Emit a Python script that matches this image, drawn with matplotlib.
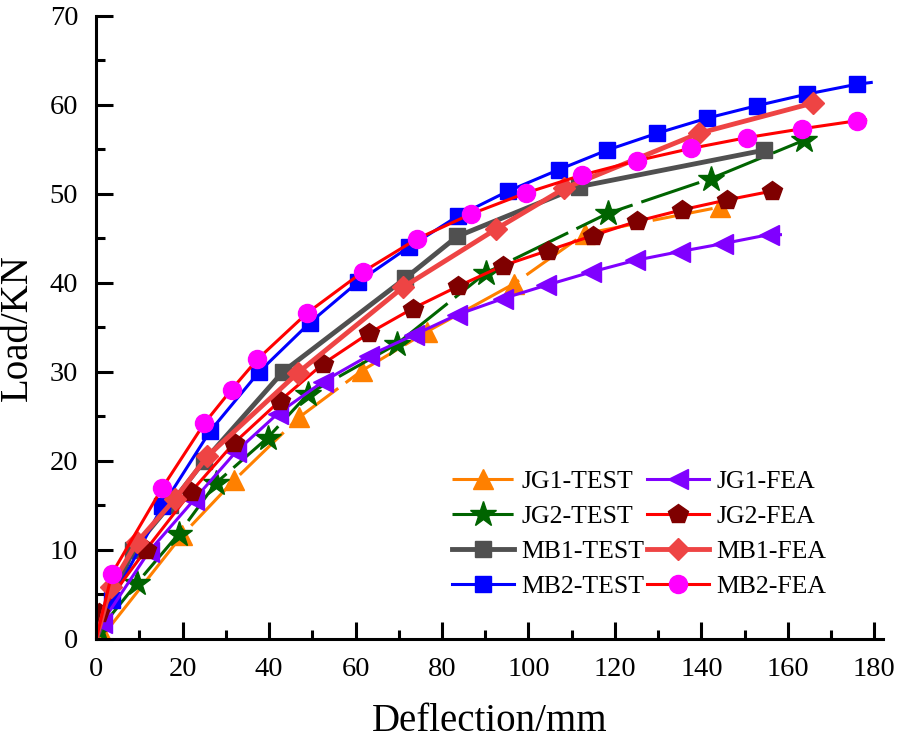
import matplotlib
matplotlib.use("Agg")
import matplotlib.pyplot as plt
from matplotlib.ticker import MultipleLocator

# load-deflection data
jg1_test_x = [1.6, 19.8, 31.9, 47.0, 61.4, 76.5, 96.7, 113.0, 144.3]
jg1_test_y = [0.4, 11.6, 17.8, 24.9, 30.1, 34.5, 39.9, 45.5, 48.5]

jg2_test_x = [0.7, 9.5, 19.1, 27.7, 39.7, 49.0, 69.5, 90.1, 118.4, 142.2, 163.7]
jg2_test_y = [1.0, 6.3, 11.8, 17.5, 22.6, 27.5, 33.1, 41.1, 47.8, 51.7, 56.0]

mb1_test_x = [0, 8.5, 17.0, 25.0, 43.2, 71.5, 83.5, 111.8, 154.6]
mb1_test_y = [0, 10.0, 15.0, 20.0, 30.0, 40.5, 45.2, 50.8, 54.9]

mb2_test_x = [0, 3.6, 15.3, 26.3, 37.7, 49.4, 60.6, 72.3, 83.7, 95.3, 107.0,
              118.2, 129.8, 141.4, 152.9, 164.5, 176.0, 179.3]
mb2_test_y = [0, 4.3, 14.9, 23.3, 30.0, 35.5, 40.1, 44.0, 47.5, 50.3, 52.7,
              54.9, 56.8, 58.5, 59.9, 61.2, 62.3, 62.5]

jg1_fea_x = [1.3, 12.2, 22.6, 32.3, 42.0, 52.5, 63.0, 73.4, 83.5, 94.0, 104.0,
             114.5, 124.6, 135.0, 145.1, 155.6, 158.3]
jg1_fea_y = [1.8, 9.8, 15.6, 21.0, 25.3, 28.9, 31.8, 34.1, 36.4, 38.2, 39.7,
             41.2, 42.5, 43.5, 44.4, 45.4, 45.4]

jg2_fea_x = [0.7, 11.5, 21.9, 31.9, 42.4, 52.5, 63.0, 73.2, 83.7, 94.0, 104.4,
             114.9, 125.1, 135.6, 145.9, 156.4]
jg2_fea_y = [2.9, 10.0, 16.5, 22.0, 26.7, 30.9, 34.3, 37.1, 39.6, 41.9, 43.6,
             45.3, 46.9, 48.2, 49.3, 50.3]

mb1_fea_x = [0, 3.3, 9.5, 18.2, 25.7, 46.7, 71.0, 92.4, 108.3, 139.5, 165.9]
mb1_fea_y = [0, 5.8, 10.9, 15.7, 20.5, 29.9, 39.5, 46.0, 50.6, 56.8, 60.2]

mb2_fea_x = [0, 3.6, 15.2, 25.0, 31.3, 37.3, 48.8, 61.6, 74.1, 86.6, 99.5,
             112.4, 125.0, 137.7, 150.5, 163.3, 176.0, 178.0]
mb2_fea_y = [0, 7.3, 16.9, 24.2, 28.0, 31.4, 36.6, 41.2, 44.9, 47.7, 50.1,
             52.1, 53.7, 55.1, 56.3, 57.3, 58.2, 58.3]

plt.rcParams['font.family'] = ['Liberation Serif', 'DejaVu Serif']

fig = plt.figure(figsize=(8.98, 7.41), dpi=100)
ax = fig.add_axes([0.1072, 0.138, 0.876, 0.8408])

dash = (0, (20, 3))

test_lines = []
fea_lines = []

l, = ax.plot(jg1_test_x, jg1_test_y, color='#FF8000', lw=2.2, ls=dash,
             marker='^', ms=14, label='JG1-TEST')
test_lines.append(l)
l, = ax.plot(jg2_test_x, jg2_test_y, color='#006400', lw=2.2, ls=dash,
             marker='*', ms=19, label='JG2-TEST')
test_lines.append(l)
l, = ax.plot(mb1_test_x, mb1_test_y, color='#505050', lw=3.5,
             marker='s', ms=11, markevery=slice(1, None), label='MB1-TEST')
test_lines.append(l)
l, = ax.plot(mb2_test_x, mb2_test_y, color='#0000FF', lw=2.2,
             marker='s', ms=11, markevery=slice(1, -1), label='MB2-TEST')
test_lines.append(l)

l, = ax.plot(jg1_fea_x, jg1_fea_y, color='#8000FF', lw=2.2,
             marker='<', ms=14, markevery=slice(0, -1), label='JG1-FEA')
fea_lines.append(l)
l, = ax.plot(jg2_fea_x, jg2_fea_y, color='#FF0000', lw=2.2, marker='p', ms=15,
             mfc='#7F0000', mec='#7F0000', label='JG2-FEA')
fea_lines.append(l)
l, = ax.plot(mb1_fea_x, mb1_fea_y, color='#EE4444', lw=3.5,
             marker='D', ms=11, markevery=slice(1, None), label='MB1-FEA')
fea_lines.append(l)
l, = ax.plot(mb2_fea_x, mb2_fea_y, color='#FF0000', lw=2.2, marker='o', ms=13,
             mfc='#FF00FF', mec='#FF00FF', markevery=slice(1, -1), label='MB2-FEA')
fea_lines.append(l)

ax.set_xlim(0, 182)
ax.set_ylim(0, 70)
ax.xaxis.set_major_locator(MultipleLocator(20))
ax.xaxis.set_minor_locator(MultipleLocator(10))
ax.yaxis.set_major_locator(MultipleLocator(10))
ax.yaxis.set_minor_locator(MultipleLocator(5))

for side in ['top', 'right']:
    ax.spines[side].set_visible(False)
for side in ['left', 'bottom']:
    ax.spines[side].set_linewidth(2.2)

ax.tick_params(which='major', direction='in', length=12.5, width=2.2,
               labelsize=20.5, pad=13)
ax.tick_params(which='minor', direction='in', length=6.5, width=2.2)

ax.set_xlabel('Deflection/mm', fontsize=28, labelpad=15)
ax.set_ylabel('Load/KN', fontsize=28, labelpad=10)

ax.legend(handles=test_lines + fea_lines, ncol=2, frameon=False, fontsize=18.5,
          loc='upper left', bbox_to_anchor=(452 / 898, 1 - 470 / 741),
          bbox_transform=fig.transFigure, borderpad=0, borderaxespad=0,
          handlelength=2.4, handletextpad=0.3, columnspacing=0.1,
          labelspacing=0.47)

fig.savefig('out.png', dpi=100)
